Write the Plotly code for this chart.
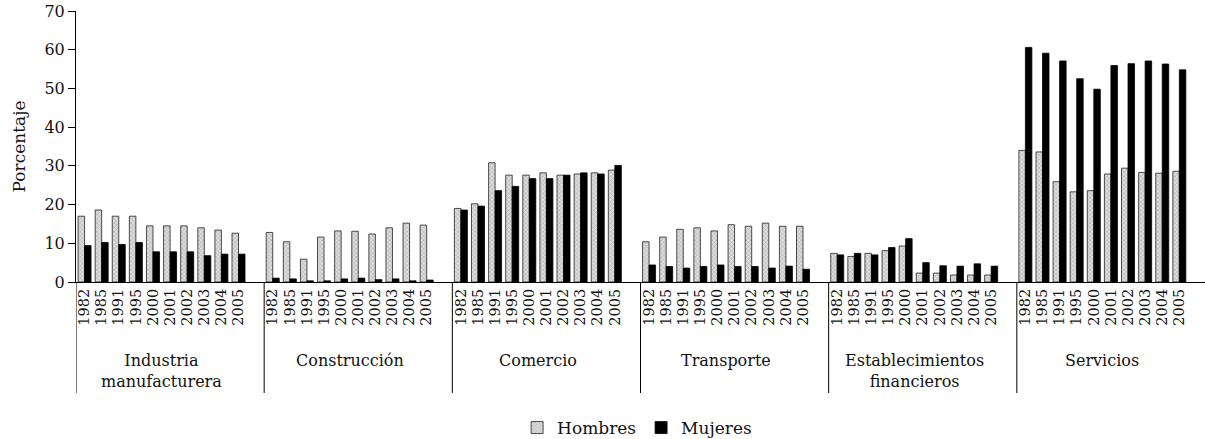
import plotly.graph_objects as go

sectors = ["Industria<br>manufacturera", "Construcción", "Comercio", "Transporte",
           "Establecimientos<br>financieros", "Servicios"]
years = ["1982", "1985", "1991", "1995", "2000", "2001", "2002", "2003", "2004", "2005"]

hombres = [
    [17.0, 18.6, 17.0, 17.0, 14.5, 14.5, 14.5, 14.0, 13.4, 12.6],
    [12.8, 10.4, 5.9, 11.6, 13.2, 13.1, 12.4, 14.0, 15.2, 14.7],
    [19.0, 20.2, 30.8, 27.6, 27.6, 28.2, 27.6, 27.9, 28.2, 28.9],
    [10.4, 11.6, 13.6, 14.0, 13.2, 14.8, 14.4, 15.2, 14.4, 14.4],
    [7.4, 6.6, 7.4, 8.1, 9.3, 2.3, 2.3, 1.8, 1.8, 1.8],
    [34.0, 33.6, 25.9, 23.3, 23.6, 27.9, 29.4, 28.3, 28.1, 28.6],
]
mujeres = [
    [9.4, 10.2, 9.7, 10.2, 7.8, 7.8, 7.8, 6.8, 7.2, 7.2],
    [1.0, 0.8, 0.3, 0.3, 0.8, 1.0, 0.6, 0.8, 0.3, 0.5],
    [18.6, 19.6, 23.6, 24.7, 26.7, 26.7, 27.6, 28.2, 27.9, 30.1],
    [4.4, 4.0, 3.6, 4.0, 4.4, 4.0, 4.0, 3.6, 4.1, 3.3],
    [7.0, 7.4, 7.0, 8.9, 11.2, 5.0, 4.2, 4.1, 4.7, 4.1],
    [60.6, 59.1, 57.1, 52.5, 49.8, 55.9, 56.4, 57.1, 56.3, 54.8],
]

# Build category keys: 10 years + one empty slot per sector
cats, h_vals, m_vals, tickvals, ticktext, group_start = [], [], [], [], [], []
for s_i, s in enumerate(sectors):
    group_start.append(len(cats))
    for y_i, yr in enumerate(years):
        key = f"{s_i}|{yr}"
        cats.append(key)
        h_vals.append(hombres[s_i][y_i])
        m_vals.append(mujeres[s_i][y_i])
        tickvals.append(key)
        ticktext.append(yr)
    cats.append(f"{s_i}|blank")
    h_vals.append(None)
    m_vals.append(None)

FONT = "DejaVu Serif"

fig = go.Figure()
fig.add_trace(go.Bar(
    x=cats, y=h_vals, name="Hombres",
    marker=dict(color="#dcdcdc", line=dict(color="#222", width=0.8),
                pattern=dict(shape="x", fgcolor="#777", size=3, solidity=0.3)),
))
fig.add_trace(go.Bar(
    x=cats, y=m_vals, name="Mujeres",
    marker=dict(color="#000000", line=dict(color="#000", width=0.8)),
))

plot_h = 439 - 11 - 157
shapes = []
annotations = []
for g_i, start in enumerate(group_start):
    shapes.append(dict(type="line", xref="x", yref="paper",
                       x0=start - 0.5, x1=start - 0.5, y0=0, y1=-(393 - 282) / plot_h,
                       line=dict(color="#000", width=1)))
    annotations.append(dict(xref="x", yref="paper", x=start + 4.5,
                            y=-(349 - 282) / plot_h, yanchor="top", xanchor="center",
                            text=sectors[g_i], showarrow=False,
                            font=dict(family=FONT, size=16, color="#111")))

fig.update_layout(
    width=1205, height=439,
    margin=dict(l=76, r=0, t=11, b=157, autoexpand=False),
    paper_bgcolor="white", plot_bgcolor="white",
    barmode="group", bargap=0.24, bargroupgap=0,
    font=dict(family=FONT, color="#111"),
    showlegend=True,
    legend=dict(orientation="h", x=0.497, xanchor="center", y=-(428 - 282) / plot_h,
                yanchor="middle", font=dict(family=FONT, size=17), itemwidth=30,
                tracegroupgap=0),
    shapes=shapes, annotations=annotations,
    xaxis=dict(type="category", categoryorder="array", categoryarray=cats,
               tickvals=tickvals, ticktext=ticktext, tickangle=-90,
               tickfont=dict(family=FONT, size=14.5, color="#111"),
               showline=True, linecolor="#000", linewidth=1, ticks="",
               showgrid=False, zeroline=False, range=[-0.5, len(cats) - 0.5],
               automargin=False),
    yaxis=dict(range=[0, 70], tickvals=[0, 10, 20, 30, 40, 50, 60, 70],
               showline=True, linecolor="#000", linewidth=1, ticks="outside",
               ticklen=7, tickcolor="#000", showgrid=False, zeroline=False,
               tickfont=dict(family=FONT, size=16, color="#111"),
               automargin=False,
               title=dict(text="Porcentaje", font=dict(family=FONT, size=17), standoff=14)),
)

fig.write_html("out.html", config={"displayModeBar": False},
               post_script="document.body.style.margin='0';document.body.style.overflow='hidden';")
